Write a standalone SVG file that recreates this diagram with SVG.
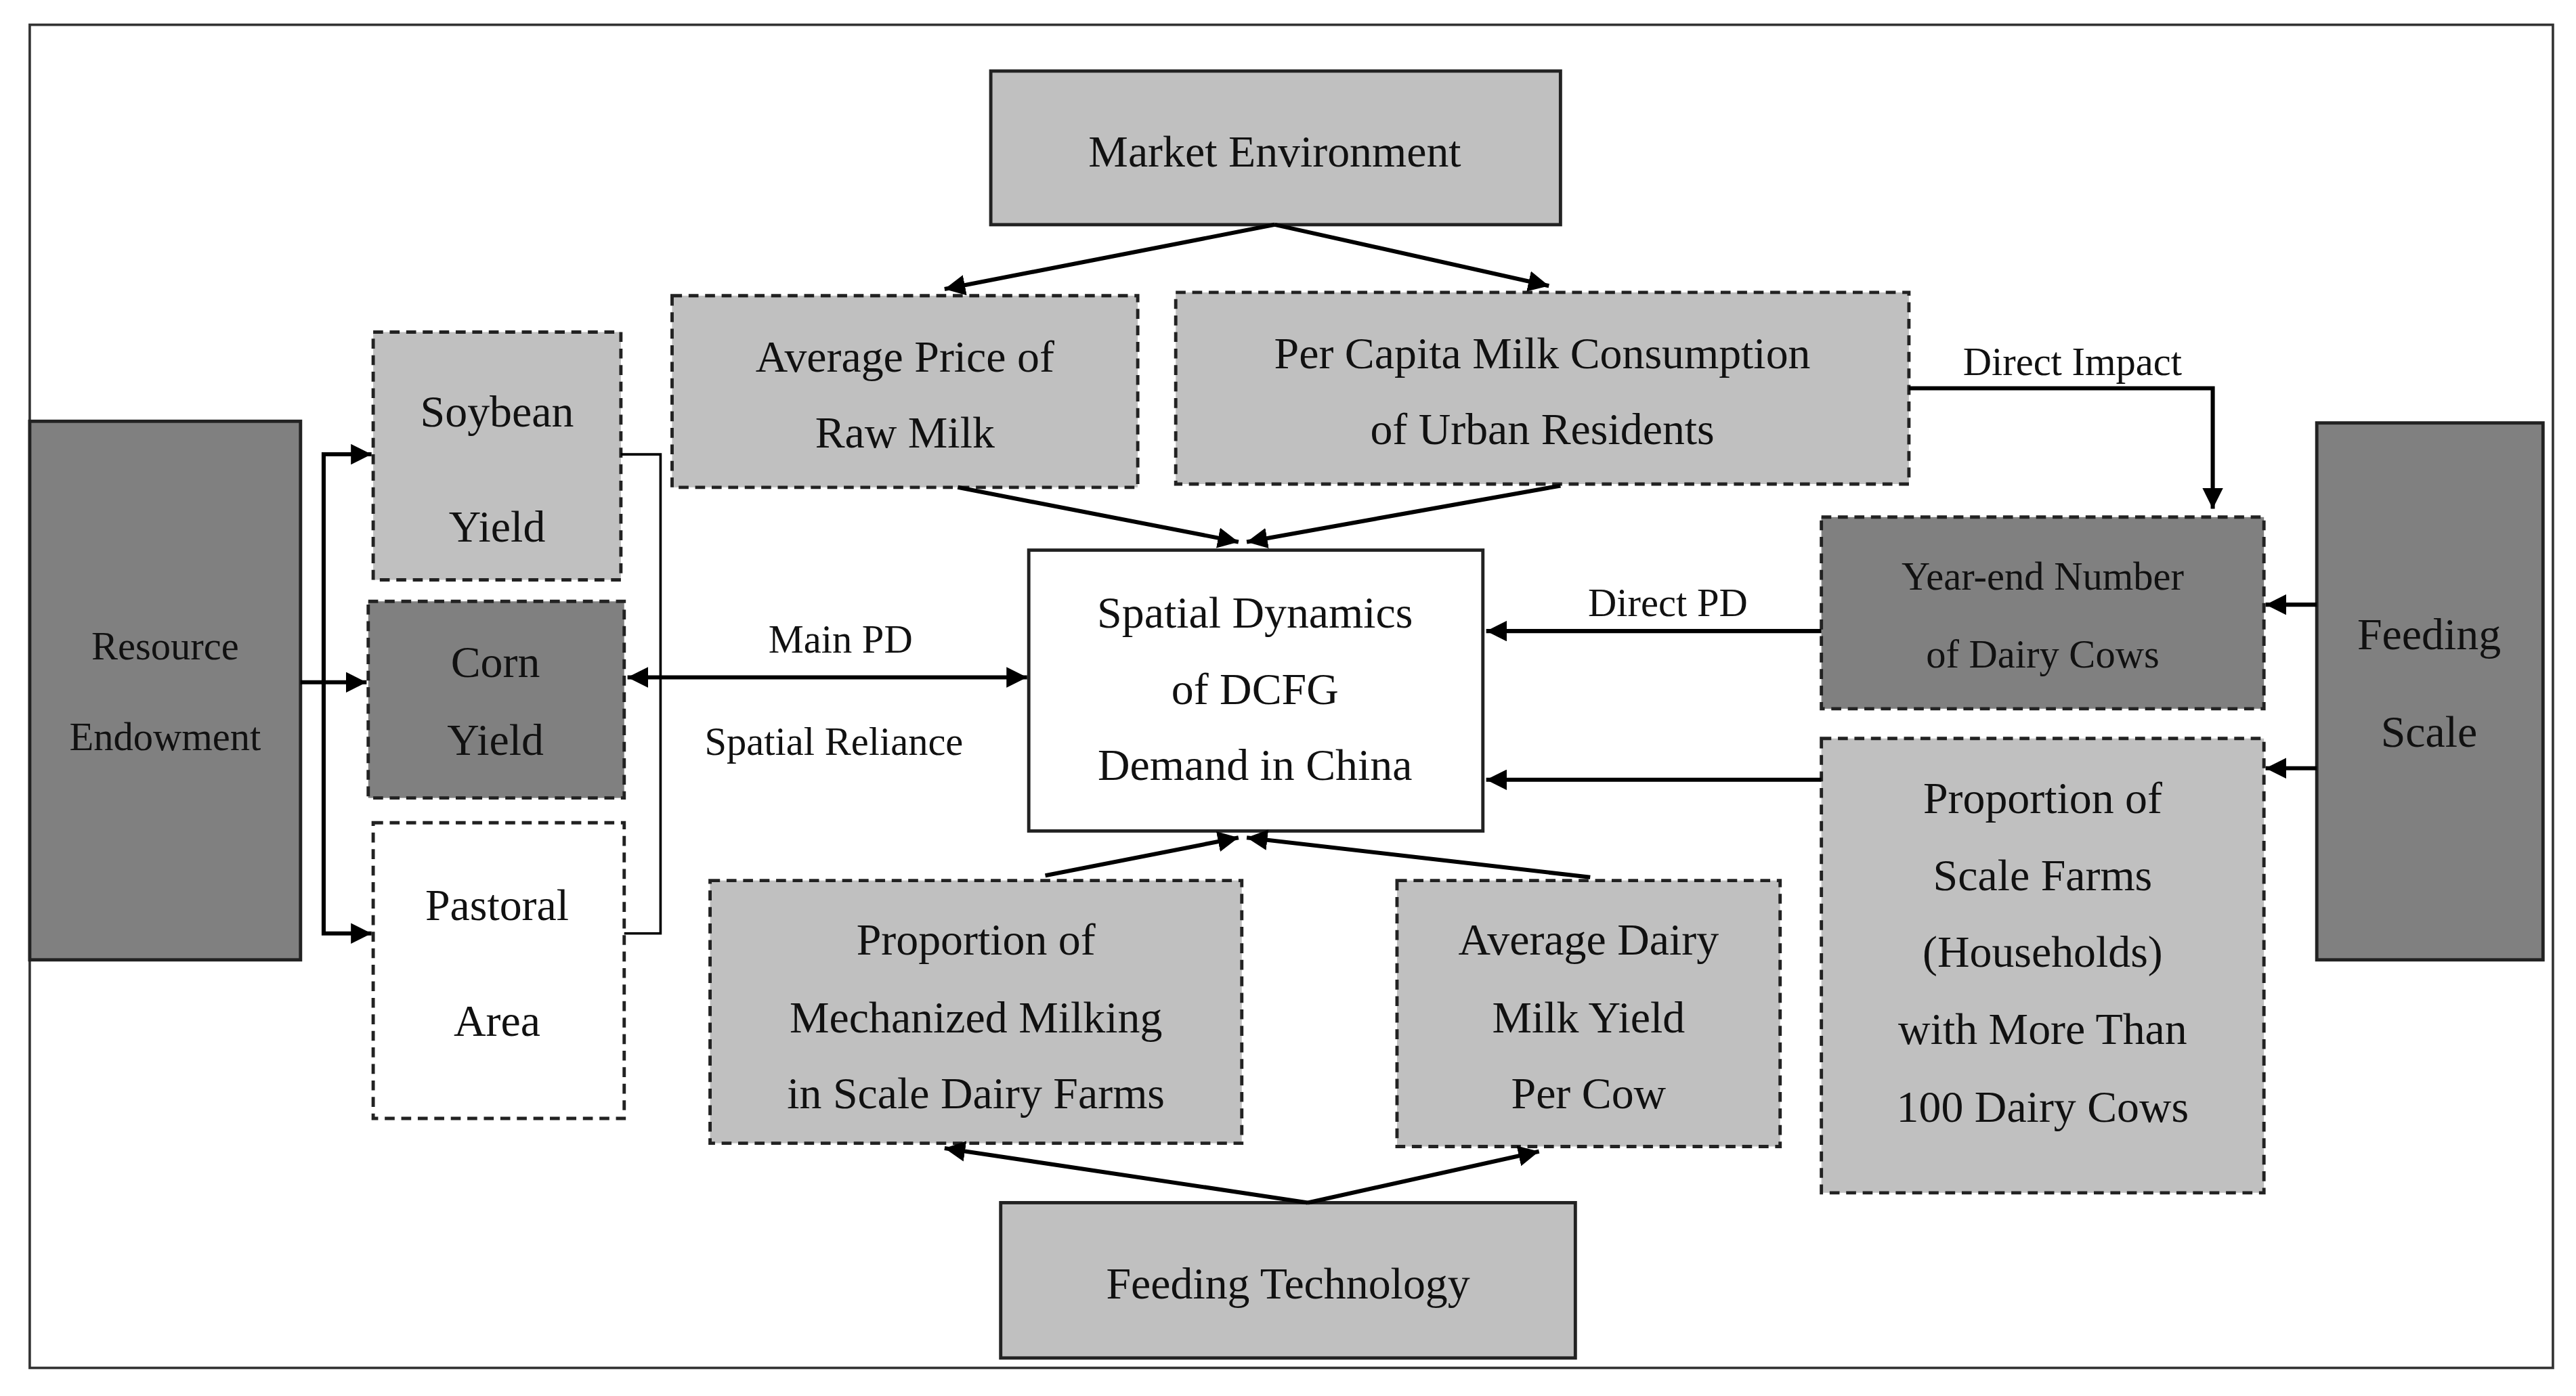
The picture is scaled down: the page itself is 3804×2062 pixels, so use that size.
<svg xmlns="http://www.w3.org/2000/svg" width="3804" height="2062" viewBox="0 0 3804 2062">
<style>
.t{font-family:"Liberation Serif","Times New Roman",serif;font-size:27px;fill:#111;text-anchor:middle}
.s{font-size:24px}
.lt{fill:#c0c0c0;stroke:#222;stroke-width:2}
.dk{fill:#808080;stroke:#222;stroke-width:2}
.wh{fill:#fff;stroke:#222;stroke-width:2}
.d{stroke-dasharray:6 4}
.c{fill:none;stroke:#000;stroke-width:2.5}
</style>
<defs>
<marker id="a" viewBox="0 0 10 10" refX="10" refY="5" markerWidth="5" markerHeight="5" orient="auto-start-reverse"><path d="M0,0 L10,5 L0,10 z" fill="#000"/></marker>
</defs>
<rect width="3804" height="2062" fill="#fff"/>
<g transform="scale(2.4385 2.4402)">
<rect x="18" y="15" width="1528" height="813" fill="none" stroke="#333" stroke-width="1.5"/>
<g id="market"><rect class="lt" x="600" y="43" width="345" height="93"/><text class="t" x="772" y="101">Market Environment</text></g>
<g id="price"><rect class="lt d" x="407" y="179" width="282" height="116"/><text class="t" x="548" y="225">Average Price of</text><text class="t" x="548" y="271">Raw Milk</text></g>
<g id="percapita"><rect class="lt d" x="712" y="177" width="444" height="116"/><text class="t" x="934" y="223">Per Capita Milk Consumption</text><text class="t" x="934" y="269">of Urban Residents</text></g>
<g id="soybean"><rect class="lt d" x="226" y="201" width="150" height="150"/><text class="t" x="301" y="258">Soybean</text><text class="t" x="301" y="328">Yield</text></g>
<g id="corn"><rect class="dk d" x="223" y="364" width="155" height="119"/><text class="t" x="300" y="410">Corn</text><text class="t" x="300" y="457">Yield</text></g>
<g id="pastoral"><rect class="wh d" x="226" y="498" width="152" height="179"/><text class="t" x="301" y="557">Pastoral</text><text class="t" x="301" y="627">Area</text></g>
<g id="resource"><rect class="dk" x="18" y="255" width="164" height="326"/><text class="t s" x="100" y="399">Resource</text><text class="t s" x="100" y="454">Endowment</text></g>
<g id="center"><rect class="wh" x="623" y="333" width="275" height="170"/><text class="t" x="760" y="380">Spatial Dynamics</text><text class="t" x="760" y="426">of DCFG</text><text class="t" x="760" y="472">Demand in China</text></g>
<g id="yearend"><rect class="dk d" x="1103" y="313" width="268" height="116"/><text class="t s" x="1237" y="357">Year-end Number</text><text class="t s" x="1237" y="404">of Dairy Cows</text></g>
<g id="scalefarms"><rect class="lt d" x="1103" y="447" width="268" height="275"/><text class="t" x="1237" y="492">Proportion of</text><text class="t" x="1237" y="539">Scale Farms</text><text class="t" x="1237" y="585">(Households)</text><text class="t" x="1237" y="632">with More Than</text><text class="t" x="1237" y="679">100 Dairy Cows</text></g>
<g id="feedscale"><rect class="dk" x="1403" y="256" width="137" height="325"/><text class="t" x="1471" y="393">Feeding</text><text class="t" x="1471" y="452">Scale</text></g>
<g id="mechanized"><rect class="lt d" x="430" y="533" width="322" height="159"/><text class="t" x="591" y="578">Proportion of</text><text class="t" x="591" y="625">Mechanized Milking</text><text class="t" x="591" y="671">in Scale Dairy Farms</text></g>
<g id="milkyield"><rect class="lt d" x="846" y="533" width="232" height="161"/><text class="t" x="962" y="578">Average Dairy</text><text class="t" x="962" y="625">Milk Yield</text><text class="t" x="962" y="671">Per Cow</text></g>
<g id="feedtech"><rect class="lt" x="606" y="728" width="348" height="94"/><text class="t" x="780" y="786">Feeding Technology</text></g>
<g id="connectors">
<path class="c" d="M772,136 L572,175" marker-end="url(#a)"/>
<path class="c" d="M772,136 L938,173" marker-end="url(#a)"/>
<path class="c" d="M182,413 L222,413" marker-end="url(#a)"/>
<path class="c" d="M196,413 V275 H225" marker-end="url(#a)"/>
<path class="c" d="M196,413 V565 H225" marker-end="url(#a)"/>
<path d="M376,275 H400 V565 H378" fill="none" stroke="#000" stroke-width="1.5"/>
<path class="c" d="M380,410 L622,410" marker-start="url(#a)" marker-end="url(#a)"/>
<path class="c" d="M580,295 L750,328" marker-end="url(#a)"/>
<path class="c" d="M945,294 L755,328" marker-end="url(#a)"/>
<path class="c" d="M1156,235 H1340 V308" marker-end="url(#a)"/>
<path class="c" d="M1103,382 L900,382" marker-end="url(#a)"/>
<path class="c" d="M1103,472 L900,472" marker-end="url(#a)"/>
<path class="c" d="M1403,366 L1372,366" marker-end="url(#a)"/>
<path class="c" d="M1403,465 L1372,465" marker-end="url(#a)"/>
<path class="c" d="M633,530 L750,507" marker-end="url(#a)"/>
<path class="c" d="M963,531 L755,507" marker-end="url(#a)"/>
<path class="c" d="M792,728 L572,695" marker-end="url(#a)"/>
<path class="c" d="M792,728 L932,697" marker-end="url(#a)"/>
<text class="t s" x="509" y="395">Main PD</text>
<text class="t s" x="505" y="457">Spatial Reliance</text>
<text class="t s" x="1010" y="373">Direct PD</text>
<text class="t s" x="1255" y="227">Direct Impact</text>
</g>
</g>
</svg>
